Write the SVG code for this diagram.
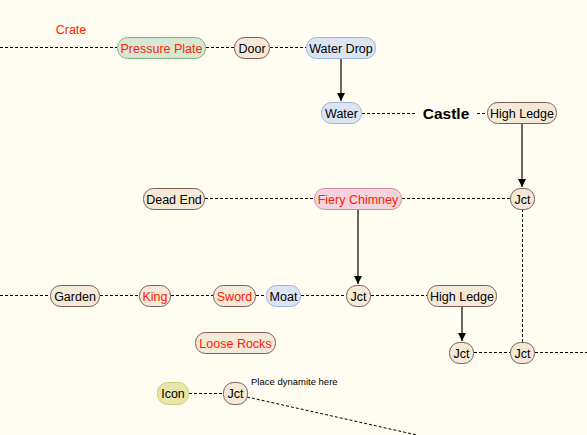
<svg xmlns="http://www.w3.org/2000/svg" width="587" height="435" viewBox="0 0 587 435">
<defs>
<marker id="arr" viewBox="0 0 10 10" refX="10" refY="5" markerWidth="8" markerHeight="10" markerUnits="userSpaceOnUse" orient="auto">
<path d="M0,0 L10,5 L0,10 z" fill="#000"/>
</marker>
</defs>
<style>
text{font-family:"Liberation Sans",Arial,sans-serif;font-size:12.5px;text-anchor:middle}
.n rect{stroke-width:1}
.tan rect{fill:#f4e8d6;stroke:#7d5c5a}
.green rect{fill:#d6e8d4;stroke:#86b378}
.blue rect{fill:#dce4f4;stroke:#9db2dd}
.pink rect{fill:#f2d3de;stroke:#d88aa4}
.yellow rect{fill:#e7e6a8;stroke:#cccc7a}
.red{fill:#ff2200}
.dash{stroke:#000;stroke-width:1;stroke-dasharray:3 2;fill:none}
.arrow{stroke:#333;stroke-width:1.5;fill:none}
</style>
<rect width="587" height="435" fill="#fffdf2"/>
<g id="connectors">
<line class="dash" x1="0" y1="47.5" x2="117" y2="47.5"/>
<line class="dash" x1="206" y1="47.5" x2="234" y2="47.5"/>
<line class="dash" x1="270" y1="47.5" x2="306" y2="47.5"/>
<line class="arrow" x1="341" y1="58" x2="341" y2="101" marker-end="url(#arr)"/>
<line class="dash" x1="362" y1="113.5" x2="416" y2="113.5"/>
<line class="dash" x1="477" y1="113.5" x2="487" y2="113.5"/>
<line class="arrow" x1="522" y1="124" x2="522" y2="187" marker-end="url(#arr)"/>
<line class="dash" x1="205" y1="198.5" x2="314" y2="198.5"/>
<line class="dash" x1="402" y1="198.5" x2="510" y2="198.5"/>
<line class="arrow" x1="358" y1="209" x2="358" y2="284" marker-end="url(#arr)"/>
<line class="dash" x1="0" y1="295.5" x2="50" y2="295.5"/>
<line class="dash" x1="100" y1="295.5" x2="139" y2="295.5"/>
<line class="dash" x1="171" y1="295.5" x2="213" y2="295.5"/>
<line class="dash" x1="256" y1="295.5" x2="266" y2="295.5"/>
<line class="dash" x1="301" y1="295.5" x2="346" y2="295.5"/>
<line class="dash" x1="371" y1="295.5" x2="427" y2="295.5"/>
<line class="arrow" x1="462" y1="306" x2="462" y2="341" marker-end="url(#arr)"/>
<line class="dash" x1="522.5" y1="209" x2="522.5" y2="342"/>
<line class="dash" x1="474" y1="352.5" x2="510" y2="352.5"/>
<line class="dash" x1="535" y1="352.5" x2="587" y2="352.5"/>
<line class="dash" x1="189" y1="393.5" x2="223" y2="393.5"/>
<line class="dash" x1="247" y1="397" x2="417" y2="435"/>
</g>
<text class="red" x="71" y="34">Crate</text>
<text x="446" y="119" style="font-weight:bold;font-size:15.5px">Castle</text>
<text x="251" y="385" style="font-size:9.5px;text-anchor:start">Place dynamite here</text>
<g id="pressure-plate" class="n green"><rect x="117.5" y="37.5" width="88" height="21" rx="10"/><text class="red" x="161.5" y="52.5">Pressure Plate</text></g>
<g id="door" class="n tan"><rect x="234.5" y="37.5" width="35" height="21" rx="10"/><text x="252" y="52.5">Door</text></g>
<g id="water-drop" class="n blue"><rect x="306.5" y="37.5" width="69" height="21" rx="10"/><text x="341" y="52.5">Water Drop</text></g>
<g id="water" class="n blue"><rect x="321.5" y="102.5" width="40" height="21" rx="10"/><text x="341.5" y="117.5">Water</text></g>
<g id="high-ledge-1" class="n tan"><rect x="487.5" y="102.5" width="69" height="21" rx="10"/><text x="522" y="117.5">High Ledge</text></g>
<g id="jct-1" class="n tan"><rect x="510.5" y="188.5" width="24" height="21" rx="10"/><text x="522.5" y="203.5">Jct</text></g>
<g id="dead-end" class="n tan"><rect x="143.5" y="188.5" width="61" height="21" rx="10"/><text x="174" y="203.5">Dead End</text></g>
<g id="fiery-chimney" class="n pink"><rect x="314.5" y="188.5" width="87" height="21" rx="10"/><text class="red" x="358" y="203.5">Fiery Chimney</text></g>
<g id="garden" class="n tan"><rect x="50.5" y="285.5" width="49" height="21" rx="10"/><text x="75" y="300.5">Garden</text></g>
<g id="king" class="n tan"><rect x="139.5" y="285.5" width="31" height="21" rx="10"/><text class="red" x="155" y="300.5">King</text></g>
<g id="sword" class="n tan"><rect x="213.5" y="285.5" width="42" height="21" rx="10"/><text class="red" x="234.5" y="300.5">Sword</text></g>
<g id="moat" class="n blue"><rect x="266.5" y="285.5" width="34" height="21" rx="10"/><text x="283.5" y="300.5">Moat</text></g>
<g id="jct-2" class="n tan"><rect x="346.5" y="285.5" width="24" height="21" rx="10"/><text x="358.5" y="300.5">Jct</text></g>
<g id="high-ledge-2" class="n tan"><rect x="427.5" y="285.5" width="69" height="21" rx="10"/><text x="462" y="300.5">High Ledge</text></g>
<g id="jct-3" class="n tan"><rect x="449.5" y="342.5" width="24" height="21" rx="10"/><text x="461.5" y="357.5">Jct</text></g>
<g id="jct-4" class="n tan"><rect x="510.5" y="342.5" width="24" height="21" rx="10"/><text x="522.5" y="357.5">Jct</text></g>
<g id="loose-rocks" class="n tan"><rect x="195.5" y="332.5" width="80" height="21" rx="10"/><text class="red" x="235.5" y="347.5">Loose Rocks</text></g>
<g id="icon" class="n yellow"><rect x="157.5" y="382.5" width="31" height="22" rx="10"/><text x="173" y="398">Icon</text></g>
<g id="jct-5" class="n tan"><rect x="223.5" y="382.5" width="24" height="22" rx="10"/><text x="235.5" y="398">Jct</text></g>
</svg>
